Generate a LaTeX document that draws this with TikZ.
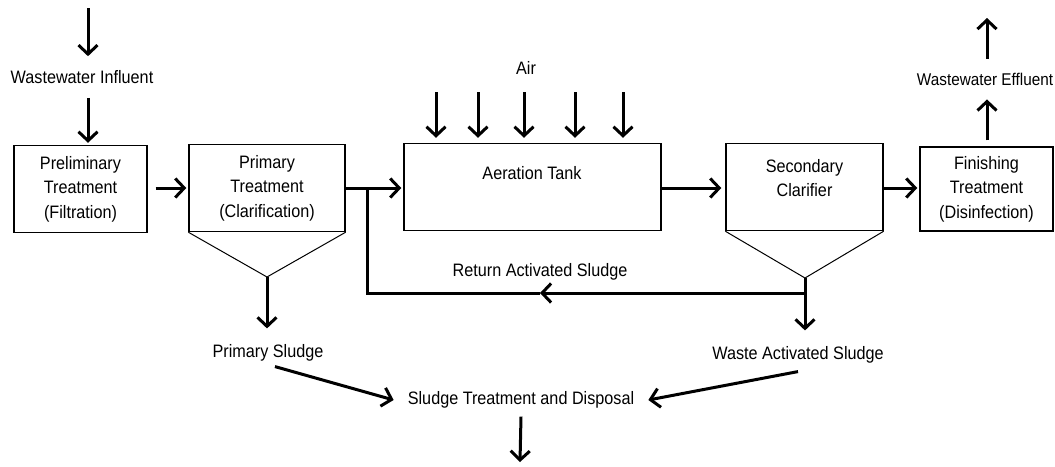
\documentclass[tikz,border=0pt]{standalone}
\usepackage{fontspec}
\setmainfont[FakeStretch=0.9]{Liberation Sans}
\usetikzlibrary{arrows.meta}

\begin{document}
\begin{tikzpicture}
    [x = 1pt, y = -1pt, font = \fontsize{18}{24.5}\selectfont,
     pipe/.style = {line width = 3pt, -{Straight Barb[length=9pt, width=19pt]}},
     wide/.style = {line width = 3pt, line join = miter},
     tank/.style = {draw, line width = 1.4pt, minimum height = 87pt, align = center, inner sep = 0pt},
     cone/.style = {draw, line width = 1pt},
     txt/.style = {inner xsep = 2pt, inner ysep = 14pt}]
    \useasboundingbox (0,0) rectangle (1055,466);

    % process units
    \node[tank, minimum width = 133pt] (pre) at (80.5,189) {Preliminary\\Treatment\\(Filtration)};
    \node[tank, minimum width = 156pt] (pri) at (267,188) {Primary\\Treatment\\(Clarification)};
    \node[tank, minimum width = 257pt] (aer) at (532.5,187) {};
    \node (aertxt) at (532,173) {Aeration Tank};
    \node[tank, minimum width = 157pt] (sec) at (804.5,187) {};
    \node[align = center] (sectxt) at (804.5,178) {Secondary\\Clarifier};
    \node[tank, minimum width = 133pt, minimum height = 84pt] (fin) at (986.5,189) {Finishing\\Treatment\\(Disinfection)};

    % hoppers
    \coordinate (papex) at (267,277);
    \coordinate (sapex) at (805,278);
    \draw[cone] (pri.south west) -- (papex) -- (pri.south east);
    \draw[cone] (sec.south west) -- (sapex) -- (sec.south east);

    % labels
    \node[txt] (inf) at (82,77) {Wastewater Influent};
    \node[txt, font = \fontsize{17}{20}\selectfont] (eff) at (985,79) {Wastewater Effluent};
    \node[txt] (air) at (526,68) {Air};
    \node[inner sep = 2pt] (ras) at (540,272) {Return Activated Sludge};
    \node[txt, inner ysep = 8pt] (ps) at (268,353) {Primary Sludge};
    \node[txt, inner ysep = 8pt] (was) at (798,355) {Waste Activated Sludge};
    \node[txt, inner xsep = 14pt, inner ysep = 8pt] (std) at (521,400) {Sludge Treatment and Disposal};

    \coordinate (in) at (88,8);
    \coordinate (out) at (987,18);
    \coordinate (j1) at (367,188);
    \coordinate (j2) at (805,293);
    \coordinate (disp) at (520,462);

    % main line
    \draw[pipe] (in) -- (in |- inf.north);
    \draw[pipe, shorten >= 2pt] (inf.south -| in) -- (pre.north -| in);
    \draw[pipe, shorten <= 8pt, shorten >= 2pt] (pre.east |- j1) -- (pri.west |- j1);
    \draw[pipe, shorten >= 2pt] (pri.east |- j1) -- (aer.west |- j1);
    \draw[pipe, shorten >= 4pt] (aer.east |- j1) -- (sec.west |- j1);
    \draw[pipe, shorten >= 2pt] (sec.east |- j1) -- (fin.west |- j1);
    \draw[pipe, shorten <= 6pt] (fin.north -| out) -- (eff.south -| out);
    \draw[pipe] (eff.north -| out) -- (out);

    % air supply
    \foreach \ax [count = \i] in {436,478,524,575,623} {
      \coordinate (a\i) at (\ax,92);
      \draw[pipe, shorten >= 5pt] (a\i) -- (a\i |- aer.north);
    }

    % sludge lines
    \draw[pipe, shorten >= 8pt] (papex) -- (papex |- ps.north);
    \draw[pipe, shorten >= 8pt] (sapex) -- (sapex |- was.north);
    \draw[pipe] (j2) -- (ras.south |- j2);
    \draw[wide] (ras.south |- j2) -- (j1 |- j2) -- (j1);
    \draw[pipe] ([xshift = 7pt, yshift = 3pt]ps.south) -- (std.west);
    \draw[pipe] (was.south) -- (std.east);
    \draw[pipe] (std.south) -- (disp);
  \end{tikzpicture}
\end{document}
